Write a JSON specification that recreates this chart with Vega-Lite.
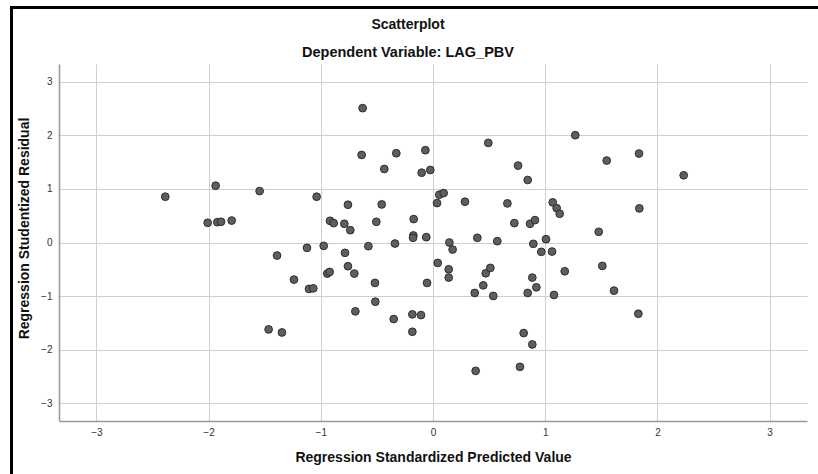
{
  "$schema": "https://vega.github.io/schema/vega-lite/v6.json",
  "width": 748,
  "height": 357,
  "autosize": {"type": "none"},
  "padding": {"left": 59, "top": 64, "right": 11, "bottom": 53},
  "background": "white",
  "title": {
    "text": "Scatterplot",
    "subtitle": "Dependent Variable: LAG_PBV",
    "anchor": "middle",
    "dx": -25,
    "offset": -53,
    "font": "Liberation Sans",
    "fontSize": 14,
    "fontWeight": "bold",
    "color": "#111",
    "subtitleFont": "Liberation Sans",
    "subtitleFontSize": 14.5,
    "subtitleFontWeight": "bold",
    "subtitleColor": "#111",
    "subtitlePadding": 14
  },
  "data": {
    "values": [
      {"x": -2.386, "y": 0.855}, {"x": -1.937, "y": 1.06}, {"x": -1.545, "y": 0.96},
      {"x": -2.008, "y": 0.368}, {"x": -1.922, "y": 0.38}, {"x": -1.889, "y": 0.387},
      {"x": -1.794, "y": 0.41}, {"x": -1.39, "y": -0.243}, {"x": -1.123, "y": -0.1},
      {"x": -1.239, "y": -0.693}, {"x": -1.105, "y": -0.867}, {"x": -1.067, "y": -0.856},
      {"x": -1.465, "y": -1.623}, {"x": -1.346, "y": -1.68}, {"x": -0.627, "y": 2.509},
      {"x": -0.636, "y": 1.635}, {"x": -0.327, "y": 1.667}, {"x": -0.068, "y": 1.723},
      {"x": -0.434, "y": 1.373}, {"x": -0.101, "y": 1.304}, {"x": -0.024, "y": 1.354},
      {"x": 0.493, "y": 1.86}, {"x": 0.758, "y": 1.436}, {"x": 0.844, "y": 1.167},
      {"x": -1.037, "y": 0.855}, {"x": -0.758, "y": 0.705}, {"x": -0.457, "y": 0.711},
      {"x": 0.036, "y": 0.736}, {"x": 0.056, "y": 0.892}, {"x": 0.095, "y": 0.923},
      {"x": 0.285, "y": 0.761}, {"x": 0.663, "y": 0.73}, {"x": -0.918, "y": 0.405},
      {"x": -0.885, "y": 0.362}, {"x": -0.79, "y": 0.35}, {"x": -0.737, "y": 0.23},
      {"x": -0.505, "y": 0.387}, {"x": -0.172, "y": 0.437}, {"x": -0.175, "y": 0.131},
      {"x": -0.178, "y": 0.088}, {"x": -0.06, "y": 0.1}, {"x": 0.725, "y": 0.362},
      {"x": 0.865, "y": 0.35}, {"x": 0.909, "y": 0.418}, {"x": -0.974, "y": -0.062},
      {"x": -0.576, "y": -0.069}, {"x": -0.339, "y": -0.019}, {"x": 0.146, "y": 0.0},
      {"x": 0.175, "y": -0.131}, {"x": 0.395, "y": 0.088}, {"x": 0.573, "y": 0.025},
      {"x": 0.894, "y": -0.025}, {"x": 1.007, "y": 0.062}, {"x": 0.965, "y": -0.175},
      {"x": 1.061, "y": -0.169}, {"x": 1.067, "y": 0.749}, {"x": 1.102, "y": 0.642},
      {"x": 1.129, "y": 0.537}, {"x": -0.784, "y": -0.193}, {"x": -0.758, "y": -0.443},
      {"x": -0.701, "y": -0.58}, {"x": -0.942, "y": -0.58}, {"x": -0.921, "y": -0.549},
      {"x": -0.517, "y": -0.755}, {"x": -0.514, "y": -1.105}, {"x": -0.692, "y": -1.286},
      {"x": -0.35, "y": -1.429}, {"x": -0.184, "y": -1.342}, {"x": -0.107, "y": -1.355},
      {"x": -0.184, "y": -1.667}, {"x": -0.053, "y": -0.755}, {"x": 0.042, "y": -0.381},
      {"x": 0.14, "y": -0.5}, {"x": 0.14, "y": -0.655}, {"x": 0.372, "y": -0.942},
      {"x": 0.448, "y": -0.8}, {"x": 0.47, "y": -0.575}, {"x": 0.511, "y": -0.474},
      {"x": 0.537, "y": -0.998}, {"x": 0.885, "y": -0.655}, {"x": 0.844, "y": -0.942},
      {"x": 0.921, "y": -0.837}, {"x": 1.078, "y": -0.98}, {"x": 0.808, "y": -1.691},
      {"x": 0.885, "y": -1.904}, {"x": 0.775, "y": -2.322}, {"x": 0.38, "y": -2.397},
      {"x": 1.268, "y": 2.004}, {"x": 1.548, "y": 1.53}, {"x": 1.836, "y": 1.661},
      {"x": 2.234, "y": 1.255}, {"x": 1.839, "y": 0.637}, {"x": 1.477, "y": 0.2},
      {"x": 1.174, "y": -0.537}, {"x": 1.509, "y": -0.437}, {"x": 1.613, "y": -0.899},
      {"x": 1.83, "y": -1.33}
    ]
  },
  "layer": [
    {
      "mark": {"type": "point", "filled": true, "fill": "#5e5e5e", "stroke": "#2e2e2e", "strokeWidth": 1, "size": 60, "opacity": 1, "fillOpacity": 1},
      "encoding": {
        "x": {
          "field": "x",
          "type": "quantitative",
          "scale": {"domain": [-3.333, 3.333], "nice": false, "zero": false},
          "axis": {
            "grid": true,
            "values": [-3, -2, -1, 0, 1, 2, 3],
            "format": "d",
            "title": "Regression Standardized Predicted Value",
            "titlePadding": 13,
            "labelPadding": 6
          }
        },
        "y": {
          "field": "y",
          "type": "quantitative",
          "scale": {"domain": [-3.333, 3.333], "nice": false, "zero": false},
          "axis": {
            "grid": true,
            "values": [-3, -2, -1, 0, 1, 2, 3],
            "format": "d",
            "title": "Regression Studentized Residual",
            "titlePadding": 9,
            "titleY": 164,
            "labelPadding": 7
          }
        }
      }
    },
    {
      "mark": {"type": "rect", "fill": null, "stroke": "#000", "strokeWidth": 2, "clip": false},
      "encoding": {
        "x": {"datum": -3.76, "type": "quantitative"},
        "x2": {"datum": 3.7},
        "y": {"datum": 4.385, "type": "quantitative"},
        "y2": {"datum": -4.7}
      }
    }
  ],
  "config": {
    "view": {"stroke": null},
    "axis": {
      "grid": true,
      "ticks": false,
      "domainColor": "#999",
      "domainWidth": 1.5,
      "gridColor": "#cfcfcf",
      "gridWidth": 1,
      "labelFont": "Liberation Sans",
      "labelFontSize": 10,
      "labelColor": "#333",
      "titleFont": "Liberation Sans",
      "titleFontSize": 14,
      "titleFontWeight": "bold",
      "titleColor": "#111"
    }
  }
}
